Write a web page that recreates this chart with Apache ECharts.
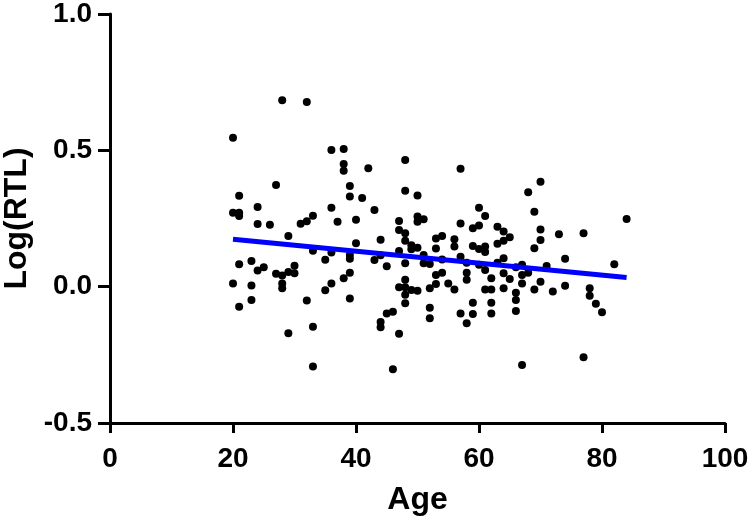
<!DOCTYPE html>
<html>
<head>
<meta charset="utf-8">
<script src="https://cdn.jsdelivr.net/npm/echarts@6/dist/echarts.min.js"></script>
<style>html,body{margin:0;padding:0;background:#fff;}#c{width:750px;height:521px;}</style>
</head>
<body>
<div id="c"></div>
<script>
var ages = [
20,20,20,
21,21,21,21,21,
23,23,23,
24,24,24,
25,
26,
27,27,
28,28,28,28,
29,29,29,
30,30,
31,
32,32,32,
33,33,33,33,
35,35,
36,36,36,36,
37,
38,38,38,38,
39,39,39,39,39,39,
40,40,
41,
42,
43,43,
44,44,44,44,
45,45,
46,46,
47,47,47,47,47,
48,48,48,48,48,48,48,48,48,
49,49,49,
50,50,50,50,50,
51,51,51,
52,52,52,52,
53,53,53,53,
54,54,54,
55,
56,56,56,
57,57,57,57,
58,58,58,58,
59,59,59,59,
60,60,60,60,
61,61,61,61,61,
62,62,62,62,
63,63,63,
64,64,64,64,64,
65,65,
66,66,66,66,
67,67,67,67,
68,68,
69,69,69,
70,70,70,70,
71,72,73,
74,74,
77,77,
78,78,
79,80,82,84];
var logRTL = [
0.546,0.271,0.012,
0.333,0.271,0.259,0.082,-0.074,
0.094,0.004,-0.049,
0.292,0.230,0.059,
0.071,
0.227,
0.373,0.047,
0.684,0.041,0.012,-0.006,
0.186,0.054,-0.171,
0.077,0.049,
0.231,
0.677,0.240,-0.051,
0.260,0.132,-0.147,-0.293,
0.099,-0.013,
0.501,0.289,0.125,0.012,
0.238,
0.505,0.450,0.425,0.031,
0.369,0.331,0.116,0.102,0.051,-0.043,
0.245,0.159,
0.325,
0.434,
0.281,0.098,
0.172,0.115,-0.130,-0.149,
0.075,-0.098,
-0.092,-0.303,
0.241,0.208,0.131,-0.002,-0.173,
0.465,0.352,0.196,0.168,0.086,0.025,-0.002,-0.030,-0.061,
0.152,0.137,-0.012,
0.334,0.257,0.238,0.143,-0.015,
0.247,0.116,0.086,
0.083,-0.006,-0.077,-0.116,
0.177,0.140,0.043,0.010,
0.186,0.100,0.051,
0.012,
0.174,0.147,-0.010,
0.432,0.232,0.110,-0.098,
0.088,0.051,0.025,-0.134,
0.214,0.149,-0.059,-0.100,
0.289,0.224,0.138,0.080,
0.259,0.147,0.127,0.061,-0.010,
0.031,-0.010,-0.059,-0.098,
0.220,0.157,0.088,
0.202,0.168,0.104,0.049,-0.006,
0.181,0.028,
0.071,-0.022,-0.049,-0.089,
0.080,0.043,0.012,-0.287,
0.346,0.051,
0.275,0.141,-0.010,
0.385,0.210,0.171,0.018,
0.076,-0.018,0.192,
0.102,0.003,
0.196,-0.259,
-0.006,-0.033,
-0.063,-0.094,0.082,0.248];
var fitAges = [20, 84];
var fitValues = [0.174, 0.034];
var xTicks = [0, 20, 40, 60, 80, 100];
var yTicks = [-0.5, 0.0, 0.5, 1.0];

var points = ages.map(function(a, i){ return [a, logRTL[i]]; });
var fitLine = fitAges.map(function(a, i){ return [a, fitValues[i]]; });

var chart = echarts.init(document.getElementById('c'), null, {renderer:'canvas'});
var font = '"Liberation Sans", Arial, sans-serif';
chart.setOption({
  animation: false,
  backgroundColor: '#ffffff',
  grid: {left: 110, right: 25, top: 14, bottom: 98, containLabel: false, outerBoundsMode: 'none'},
  xAxis: {
    type: 'value', min: 0, max: 100, interval: 20,
    name: 'Age', nameLocation: 'middle', nameGap: 61,
    nameTextStyle: {fontFamily: font, fontWeight: 'bold', fontSize: 32, color: '#000'},
    axisLine: {show: true, onZero: false, lineStyle: {color: '#000', width: 3}},
    axisTick: {show: true, length: 10, lineStyle: {color: '#000', width: 3}},
    axisLabel: {fontFamily: font, fontWeight: 'bold', fontSize: 28, color: '#000', margin: 22,
      formatter: function(v){ return xTicks.indexOf(v) >= 0 ? String(v) : ''; }},
    splitLine: {show: false}
  },
  yAxis: {
    type: 'value', min: -0.5, max: 1.0, interval: 0.5,
    name: 'Log(RTL)', nameLocation: 'middle', nameGap: 71, nameRotate: 90,
    nameTextStyle: {fontFamily: font, fontWeight: 'bold', fontSize: 32, color: '#000'},
    axisLine: {show: true, onZero: false, lineStyle: {color: '#000', width: 3}},
    axisTick: {show: true, length: 12, lineStyle: {color: '#000', width: 3}},
    axisLabel: {fontFamily: font, fontWeight: 'bold', fontSize: 28, color: '#000', margin: 18,
      formatter: function(v){ return yTicks.indexOf(Math.round(v*10)/10) >= 0 ? v.toFixed(1) : ''; }},
    splitLine: {show: false}
  },
  series: [
    {type: 'scatter', data: points, symbol: 'circle', symbolSize: 8,
     itemStyle: {color: '#000', opacity: 1}, z: 3},
    {type: 'line', data: fitLine, symbol: 'none', lineStyle: {color: '#0000ff', width: 5}, z: 4}
  ]
});
</script>
</body>
</html>
